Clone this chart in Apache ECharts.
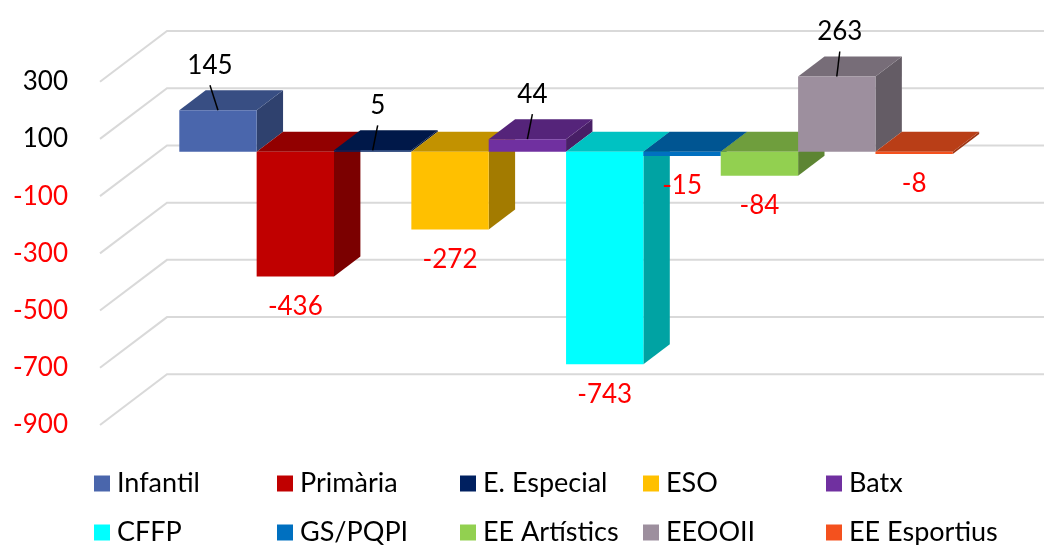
<!DOCTYPE html>
<html>
<head>
<meta charset="utf-8">
<title>Variació per ensenyament</title>
<script src="https://cdn.jsdelivr.net/npm/echarts@6/dist/echarts.min.js"></script>
<style>
  html, body { margin: 0; padding: 0; background: #fff; }
  #chart { width: 1044px; height: 545px; }
</style>
</head>
<body>
<div id="chart"></div>
<script>
// ---- data ----
const categories = ['Infantil', 'Primària', 'E. Especial', 'ESO', 'Batx',
                    'CFFP', 'GS/PQPI', 'EE Artístics', 'EEOOII', 'EE Esportius'];
const values = [145, -436, 5, -272, 44, -743, -15, -84, 263, -8];
const tickValues = [300, 100, -100, -300, -500, -700, -900];

// ---- style ----
const frontColors = ['#4A66AC', '#C00000', '#002060', '#FFC000', '#7030A0',
                     '#00FFFF', '#0070C0', '#92D050', '#9D8F9E', '#F4511E'];
const FONT = 'Lato, "Noto Sans", sans-serif';
const FONT_SIZE = 26;
const LEGEND_FONT_SIZE = 27;
const GRID_COLOR = '#D9D9D9';

// perspective: depth of the whole wall box and of a single bar (pixels)
const WALL_DEPTH = [67, -50.7];
const BAR_SHIFT = [20.9, -15.8];   // front wall plane -> bar front plane
const BAR_DEPTH = [26.4, -20];

const X_MIN = -0.755, X_MAX = 10.583;
const LABEL_NUDGE = [-8, 5, 5, 0, 5, 0, 0, 0, 3, 0];

function shade(hex, k) {
  const n = parseInt(hex.slice(1), 16);
  const r = Math.round(((n >> 16) & 255) * k);
  const g = Math.round(((n >> 8) & 255) * k);
  const b = Math.round((n & 255) * k);
  return 'rgb(' + r + ',' + g + ',' + b + ')';
}

// gridlines on the left wall and back wall
function renderWall(params, api) {
  const v = api.value(0);
  const a = api.coord([X_MIN, v]);
  const c = api.coord([X_MAX, v]);
  return {
    type: 'polyline',
    shape: {
      points: [
        a,
        [a[0] + WALL_DEPTH[0], a[1] + WALL_DEPTH[1]],
        [c[0] + WALL_DEPTH[0], c[1] + WALL_DEPTH[1]]
      ]
    },
    style: { stroke: GRID_COLOR, lineWidth: 2, fill: null },
    silent: true
  };
}

function makeBarRenderer(idx) {
  const front = frontColors[idx];
  const top = shade(front, 0.76);
  const side = shade(front, 0.64);
  return function (params, api) {
    const i = api.value(0), v = api.value(1);
    const p0 = api.coord([i, 0]);
    const p1 = api.coord([i + 1, v]);
    const x0 = p0[0] + BAR_SHIFT[0], x1 = p1[0] + BAR_SHIFT[0];
    const yZero = p0[1] + BAR_SHIFT[1], yVal = p1[1] + BAR_SHIFT[1];
    const yTop = Math.min(yZero, yVal), yBot = Math.max(yZero, yVal);
    const dx = BAR_DEPTH[0], dy = BAR_DEPTH[1];
    const cx = (x0 + x1) / 2;
    const children = [
      { type: 'polygon',
        shape: { points: [[x1, yTop], [x1 + dx, yTop + dy], [x1 + dx, yBot + dy], [x1, yBot]] },
        style: { fill: side } },
      { type: 'polygon',
        shape: { points: [[x0, yTop], [x0 + dx, yTop + dy], [x1 + dx, yTop + dy], [x1, yTop]] },
        style: { fill: top } },
      { type: 'rect',
        shape: { x: x0, y: yTop, width: x1 - x0, height: Math.max(yBot - yTop, 0.5) },
        style: { fill: front } }
    ];
    const nudge = LABEL_NUDGE[idx];
    if (v >= 0) {
      children.push({
        type: 'line',
        shape: { x1: cx, y1: yTop, x2: cx + nudge, y2: yTop - 25 },
        style: { stroke: '#000', lineWidth: 1.5 },
        z2: 20
      });
      children.push({
        type: 'text', x: cx + nudge, y: yTop - 45, z2: 20,
        style: { text: String(v), fill: '#000', fontSize: FONT_SIZE, fontFamily: FONT,
                 align: 'center', verticalAlign: 'middle' }
      });
    } else {
      children.push({
        type: 'text', x: cx, y: yBot + 30, z2: 20,
        style: { text: String(v), fill: '#FF0000', fontSize: FONT_SIZE, fontFamily: FONT,
                 align: 'center', verticalAlign: 'middle' }
      });
    }
    return { type: 'group', children: children };
  };
}

const barSeries = categories.map(function (name, idx) {
  return {
    type: 'custom',
    name: name,
    z: 10 + idx,
    itemStyle: { color: frontColors[idx] },
    renderItem: makeBarRenderer(idx),
    encode: { x: 0, y: 1 },
    data: [[idx, values[idx]]],
    animation: false
  };
});

const legends = categories.map(function (name, idx) {
  return {
    data: [name],
    left: 94 + (idx % 5) * 183,
    top: idx < 5 ? 470 : 519,
    padding: 0,
    itemWidth: 16,
    itemHeight: 16,
    icon: 'rect',
    selectedMode: false,
    textStyle: { fontSize: LEGEND_FONT_SIZE, fontFamily: FONT, color: '#000', padding: [0, 0, 0, 2] }
  };
});

const chart = echarts.init(document.getElementById('chart'), null, { renderer: 'canvas' });
chart.setOption({
  animation: false,
  backgroundColor: '#fff',
  textStyle: { fontFamily: FONT },
  grid: { left: 100, right: 67, top: 81.7, height: 343.3, outerBoundsMode: 'none' },
  xAxis: { type: 'value', min: X_MIN, max: X_MAX, show: false },
  yAxis: {
    type: 'value', min: -900, max: 300,
    axisLine: { show: false }, axisTick: { show: false }, splitLine: { show: false },
    axisLabel: {
      customValues: tickValues,
      margin: 32,
      formatter: function (v) { return v < 0 ? '{neg|' + v + '}' : '{pos|' + v + '}'; },
      rich: {
        pos: { color: '#000', fontSize: FONT_SIZE, fontFamily: FONT },
        neg: { color: '#FF0000', fontSize: FONT_SIZE, fontFamily: FONT }
      }
    }
  },
  legend: legends,
  series: [{
    type: 'custom',
    name: 'walls',
    z: 1,
    silent: true,
    renderItem: renderWall,
    encode: { y: 0 },
    data: tickValues.map(function (v) { return [v]; })
  }].concat(barSeries)
});
</script>
</body>
</html>
